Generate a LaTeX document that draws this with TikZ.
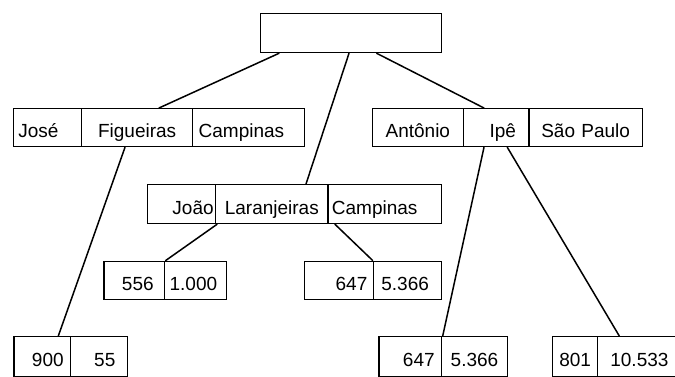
\documentclass[tikz,border=0pt]{standalone}
\usepackage{fontspec}
\setmainfont{Liberation Sans}
\begin{document}
\begin{tikzpicture}[x=1pt,y=-1pt,
  cell/.style={draw, line width=1.3pt, anchor=north west, minimum height=38pt,
    inner ysep=0pt, text height=22pt, text depth=2pt,
    font=\fontsize{19}{22}\selectfont},
  link/.style={line width=1.5pt, line cap=round}]
\useasboundingbox (0,0) rectangle (675,376);
\clip (0,0) rectangle (675,376);

% root
\node[cell, minimum width=181pt, minimum height=39pt, inner xsep=0pt] (root) at (260,13) {};

% first level: José / Figueiras / Campinas
\node[cell, inner xsep=5pt, text width=58.3pt, align=left]   (jose)  at (12.7,108) {José};
\node[cell, inner xsep=2pt, text width=107pt, align=center]  (fig)   at (81,108)   {Figueiras};
\node[cell, inner xsep=6pt, text width=100pt, align=left]    (camp1) at (192,108)  {Campinas};

% first level: Antônio / Ipê / São Paulo
\node[cell, inner xsep=2pt, text width=87pt, align=center]    (anto) at (371.7,108) {Antônio};
\node[cell, inner xsep=13pt, text width=39.6pt, align=right]  (ipe)  at (462.7,108) {Ipê};
\node[cell, inner xsep=2pt, text width=109.4pt, align=center] (sp)   at (528.3,108) {São Paulo};

% second level: João / Laranjeiras / Campinas
\node[cell, minimum height=39pt, inner xsep=2pt, text width=64.3pt, align=right]   (joao)  at (146.7,184) {João};
\node[cell, minimum height=39pt, inner xsep=2pt, text width=108.3pt, align=center] (lar)   at (215,184)   {Laranjeiras};
\node[cell, minimum height=39pt, inner xsep=4pt, text width=105.4pt, align=left]   (camp2) at (327.3,184) {Campinas};

% third level
\node[cell, inner xsep=11pt, text width=38.7pt, align=right] (n556)   at (103.3,260.5) {556};
\node[cell, inner xsep=5pt, text width=52pt, align=left]     (n1000)  at (164,260.5)   {1.000};
\node[cell, inner xsep=6pt, text width=56.7pt, align=right]  (n647a)  at (304,260.5)   {647};
\node[cell, inner xsep=8pt, text width=52pt, align=left]     (n5366a) at (372.7,260.5) {5.366};

% bottom level
\node[cell, minimum height=40pt, inner xsep=7pt, text width=42.7pt, align=right]  (n900)   at (13.3,336)  {900};
\node[cell, minimum height=40pt, inner xsep=12pt, text width=32.7pt, align=right] (n55)    at (70,336)    {55};
\node[cell, minimum height=40pt, inner xsep=7pt, text width=48.7pt, align=right]  (n647b)  at (378.3,336) {647};
\node[cell, minimum height=40pt, inner xsep=2pt, text width=61.7pt, align=center] (n5366b) at (441,336)   {5.366};
\node[cell, minimum height=40pt, inner xsep=7pt, text width=31pt, align=left]     (n801)   at (551.7,336) {801};
\node[cell, minimum height=40pt, inner xsep=13pt, text width=59pt, align=left]    (n10533) at (596.7,336) {10.533};

% connectors
\draw[link] ([xshift=19pt]root.south west)    -- ([xshift=78pt]fig.north west);
\draw[link] ([xshift=89pt]root.south west)    -- ([xshift=91pt]lar.north west);
\draw[link] ([xshift=116.7pt]root.south west) -- ([xshift=21.3pt]ipe.north west);
\draw[link] ([xshift=44pt]fig.south west)     -- ([xshift=45pt]n900.north west);
\draw[link] ([xshift=2pt]lar.south west)      -- ([xshift=1.7pt]n1000.north west);
\draw[link] ([xshift=7.7pt]camp2.south west)  -- (n5366a.north west);
\draw[link] ([xshift=21.3pt]ipe.south west)   -- ([xshift=1.7pt]n5366b.north west);
\draw[link] ([xshift=44.6pt]ipe.south west)   -- ([xshift=22.6pt]n10533.north west);
\end{tikzpicture}
\end{document}
